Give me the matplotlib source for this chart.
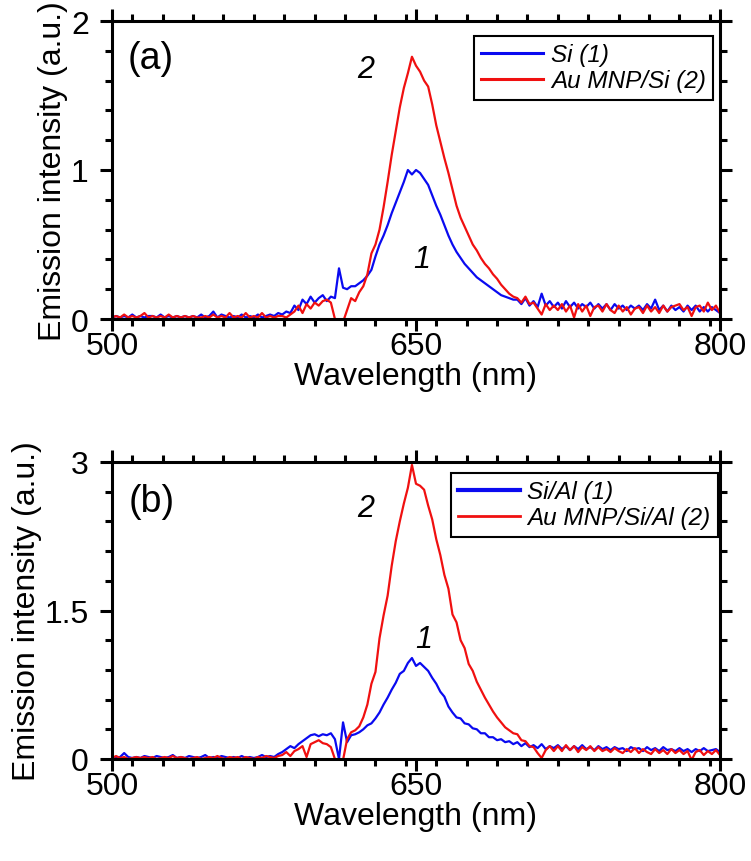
import numpy as np
import matplotlib
matplotlib.use('Agg')
import matplotlib.pyplot as plt
from matplotlib.ticker import MultipleLocator, FixedLocator
from matplotlib.lines import Line2D

plt.rcParams['font.family'] = ['Liberation Sans', 'DejaVu Sans']

# ---------------- data ----------------
wavelength = np.arange(500, 801, 2)  # nm

# panel (a): Si (1)
si_a = [
    0.01, 0.02, 0.01, 0.02, 0.01, 0.03, 0.01, 0.02, 0.01, 0.02,   # 500-518
    0.02, 0.01, 0.03, 0.01, 0.02, 0.01, 0.02, 0.01, 0.02, 0.01,   # 520-538
    0.02, 0.01, 0.03, 0.01, 0.02, 0.05, 0.01, 0.03, 0.02, 0.01,   # 540-558
    0.02, 0.01, 0.03, 0.01, 0.02, 0.01, 0.03, 0.01, 0.02, 0.03,   # 560-578
    0.02, 0.04, 0.03, 0.05, 0.04, 0.09, 0.06, 0.13, 0.10, 0.15,   # 580-598
    0.11, 0.14, 0.16, 0.12, 0.15, 0.14, 0.34, 0.21, 0.20, 0.22,   # 600-618
    0.22, 0.24, 0.26, 0.29, 0.33, 0.42, 0.50, 0.56, 0.63, 0.71,   # 620-638
    0.78, 0.85, 0.92, 1.00, 0.97, 1.00, 0.98, 0.94, 0.90, 0.83,   # 640-658
    0.76, 0.70, 0.63, 0.56, 0.50, 0.45, 0.41, 0.37, 0.34, 0.31,   # 660-678
    0.28, 0.26, 0.24, 0.22, 0.20, 0.18, 0.16, 0.15, 0.14, 0.13,   # 680-698
    0.13, 0.10, 0.14, 0.09, 0.12, 0.08, 0.17, 0.09, 0.12, 0.08,   # 700-718
    0.11, 0.07, 0.12, 0.08, 0.11, 0.07, 0.10, 0.08, 0.11, 0.07,   # 720-738
    0.10, 0.07, 0.10, 0.06, 0.10, 0.07, 0.09, 0.06, 0.09, 0.07,   # 740-758
    0.09, 0.06, 0.10, 0.07, 0.13, 0.06, 0.09, 0.05, 0.09, 0.06,   # 760-778
    0.08, 0.05, 0.09, 0.06, 0.09, 0.05, 0.08, 0.05, 0.08, 0.06,   # 780-798
    0.04,                                                         # 800
]

# panel (a): Au MNP/Si (2)
au_si_a = [
    0.01, 0.02, 0.01, 0.03, 0.01, 0.02, 0.01, 0.02, 0.04, 0.01,
    0.02, 0.01, 0.02, 0.01, 0.03, 0.01, 0.02, 0.01, 0.02, 0.01,
    0.02, 0.01, 0.01, 0.02, 0.01, 0.03, 0.01, 0.02, 0.01, 0.04,
    0.01, 0.02, 0.01, 0.04, 0.01, 0.02, 0.01, 0.04, 0.01, 0.02,
    0.01, 0.02, 0.02, 0.01, 0.03, 0.05, 0.09, 0.04, 0.10, 0.07,
    0.11, 0.09, 0.12, 0.13, 0.11, 0.00, -0.02, -0.02, 0.06, 0.14,
    0.12, 0.18, 0.22, 0.30, 0.44, 0.50, 0.60, 0.75, 0.92, 1.10,
    1.26, 1.42, 1.55, 1.65, 1.76, 1.70, 1.66, 1.60, 1.56, 1.44,
    1.30, 1.19, 1.08, 0.98, 0.87, 0.76, 0.68, 0.62, 0.56, 0.50,
    0.46, 0.41, 0.37, 0.34, 0.30, 0.27, 0.23, 0.20, 0.17, 0.15,
    0.14, 0.11, 0.15, 0.10, 0.11, 0.07, 0.03, 0.10, 0.06, 0.09,
    0.06, 0.10, 0.05, 0.09, 0.01, 0.10, 0.05, 0.09, 0.02, 0.08,
    0.09, 0.05, 0.10, 0.06, 0.04, 0.09, 0.05, 0.08, 0.03, 0.07,
    0.08, 0.04, 0.09, 0.05, 0.08, 0.04, 0.09, 0.05, 0.08, 0.09,
    0.10, 0.06, 0.08, 0.02, 0.08, 0.09, 0.05, 0.11, 0.06, 0.09,
    0.04,
]

# panel (b): Si/Al (1)
si_al_b = [
    0.02, 0.01, 0.02, 0.06, 0.02, 0.01, 0.02, 0.01, 0.03, 0.02,
    0.01, 0.03, 0.02, 0.01, 0.02, 0.04, 0.01, 0.02, 0.01, 0.03,
    0.02, 0.01, 0.02, 0.04, 0.01, 0.02, 0.01, 0.03, 0.02, 0.01,
    0.02, 0.01, 0.03, 0.01, 0.02, 0.01, 0.02, 0.04, 0.02, 0.03,
    0.02, 0.05, 0.07, 0.10, 0.13, 0.11, 0.15, 0.18, 0.21, 0.24,
    0.25, 0.23, 0.25, 0.24, 0.26, 0.20, 0.00, 0.37, 0.17, 0.24,
    0.25, 0.27, 0.30, 0.34, 0.36, 0.41, 0.47, 0.55, 0.62, 0.70,
    0.77, 0.86, 0.89, 0.97, 1.02, 0.94, 0.97, 0.93, 0.89, 0.82,
    0.76, 0.68, 0.63, 0.53, 0.47, 0.42, 0.41, 0.36, 0.35, 0.31,
    0.30, 0.26, 0.26, 0.22, 0.22, 0.19, 0.20, 0.17, 0.18, 0.15,
    0.17, 0.13, 0.16, 0.12, 0.14, 0.11, 0.15, 0.10, 0.13, 0.11,
    0.14, 0.10, 0.13, 0.09, 0.13, 0.10, 0.14, 0.10, 0.12, 0.09,
    0.13, 0.10, 0.12, 0.09, 0.12, 0.10, 0.11, 0.08, 0.12, 0.10,
    0.11, 0.08, 0.12, 0.09, 0.11, 0.08, 0.12, 0.09, 0.10, 0.08,
    0.11, 0.08, 0.10, 0.07, 0.10, 0.08, 0.11, 0.08, 0.09, 0.10,
    0.07,
]

# panel (b): Au MNP/Si/Al (2)
au_si_al_b = [
    0.01, 0.03, 0.01, 0.02, 0.00, 0.01, 0.02, 0.01, 0.02, 0.01,
    0.02, 0.00, 0.01, 0.02, 0.01, 0.03, 0.01, 0.02, 0.01, 0.00,
    0.01, 0.02, 0.00, 0.01, 0.02, 0.01, 0.03, 0.01, 0.00, 0.02,
    0.01, 0.02, 0.00, 0.02, 0.01, 0.00, 0.02, 0.01, 0.03, 0.02,
    0.01, 0.03, 0.04, 0.07, 0.03, 0.08, 0.10, 0.13, 0.02, 0.15,
    0.17, 0.19, 0.16, 0.15, 0.12, 0.00, -0.02, -0.01, 0.20, 0.27,
    0.29, 0.33, 0.42, 0.55, 0.76, 0.88, 1.22, 1.45, 1.65, 1.95,
    2.20, 2.40, 2.58, 2.74, 2.97, 2.78, 2.76, 2.72, 2.56, 2.42,
    2.22, 2.06, 1.86, 1.72, 1.46, 1.38, 1.20, 1.12, 0.96, 0.89,
    0.78, 0.70, 0.62, 0.55, 0.48, 0.42, 0.37, 0.32, 0.29, 0.26,
    0.25, 0.19, 0.18, 0.13, 0.12, 0.06, 0.01, 0.09, 0.13, 0.08,
    0.13, 0.08, 0.14, 0.09, 0.13, 0.07, 0.12, 0.09, 0.13, 0.08,
    0.12, 0.08, 0.10, 0.07, 0.11, 0.08, 0.06, 0.10, 0.07, 0.11,
    0.06, 0.10, 0.07, 0.05, 0.10, 0.06, 0.09, 0.05, 0.10, 0.06,
    0.09, 0.05, 0.08, -0.01, 0.07, 0.09, 0.04, 0.08, 0.05, 0.09,
    0.04,
]

labels_a = ['Si (1)', 'Au MNP/Si (2)']
labels_b = ['Si/Al (1)', 'Au MNP/Si/Al (2)']
x_ticks = [500, 650, 800]
y_ticks_a = [0, 1, 2]
y_ticklabels_a = ['0', '1', '2']
y_ticks_b = [0, 1.5, 3]
y_ticklabels_b = ['0', '1.5', '3']

BLUE = '#0a0af0'
RED = '#f01010'

# ---------------- figure ----------------
W, H = 751, 862
fig = plt.figure(figsize=(W / 100, H / 100), dpi=100)


def add_ax(l, t, r, b):
    return fig.add_axes([l / W, 1 - b / H, (r - l) / W, (b - t) / H])


ax1 = add_ax(112, 22, 720, 320)
ax2 = add_ax(112, 463, 720, 760)


def style(ax, ymax, yticks, yticklabels, yminor):
    ax.set_xlim(500, 800)
    ax.set_ylim(0, ymax)
    ax.xaxis.set_major_locator(FixedLocator(x_ticks))
    ax.xaxis.set_minor_locator(MultipleLocator(15))
    ax.yaxis.set_major_locator(FixedLocator(yticks))
    ax.yaxis.set_minor_locator(MultipleLocator(yminor))
    ax.set_yticklabels(yticklabels)
    for s in ax.spines.values():
        s.set_linewidth(2.2)
    ax.tick_params(which='both', direction='out', top=True, right=True,
                   width=2.2, labelsize=23)
    ax.tick_params(which='major', length=8.7)
    ax.tick_params(which='minor', length=5)
    ax.tick_params(axis='x', which='major', pad=0)
    ax.tick_params(axis='y', which='major', pad=8)
    ax.set_xlabel('Wavelength (nm)', fontsize=23, labelpad=0)
    ax.set_ylabel('Emission intensity (a.u.)', fontsize=23, labelpad=2)


# panel (a)
ax1.plot(wavelength, si_a, color=BLUE, lw=1.6)
ax1.plot(wavelength, au_si_a, color=RED, lw=1.6)
style(ax1, 2, y_ticks_a, y_ticklabels_a, 0.2)
ax1.text(0.025, 0.877, '(a)', transform=ax1.transAxes, fontsize=27,
         ha='left', va='center')
ax1.text(625.3, 1.675, '2', fontsize=22, style='italic', ha='center', va='center')
ax1.text(653, 0.40, '1', fontsize=22, style='italic', ha='center', va='center')
h_a = [Line2D([], [], color=BLUE, lw=2.2), Line2D([], [], color=RED, lw=2.2)]
leg = ax1.legend(h_a, labels_a, loc='upper right',
                 bbox_to_anchor=((713 - 112) / 608, (320 - 37) / 298),
                 borderaxespad=0, fancybox=False, edgecolor='black', framealpha=1,
                 prop={'size': 17.5, 'style': 'italic'}, handlelength=2.55,
                 handletextpad=0.3, borderpad=0.3, labelspacing=0.12)
leg.get_frame().set_linewidth(1.5)

# panel (b)
ax2.plot(wavelength, si_al_b, color=BLUE, lw=1.6)
ax2.plot(wavelength, au_si_al_b, color=RED, lw=1.6)
style(ax2, 3, y_ticks_b, y_ticklabels_b, 0.3)
ax2.text(0.027, 0.870, '(b)', transform=ax2.transAxes, fontsize=27,
         ha='left', va='center')
ax2.text(625.3, 2.535, '2', fontsize=22, style='italic', ha='center', va='center')
ax2.text(654, 1.21, '1', fontsize=22, style='italic', ha='center', va='center')
h_b = [Line2D([], [], color=BLUE, lw=3.0), Line2D([], [], color=RED, lw=2.0)]
leg = ax2.legend(h_b, labels_b, loc='upper right',
                 bbox_to_anchor=((718 - 112) / 608, (760 - 474) / 297),
                 borderaxespad=0, fancybox=False, edgecolor='black', framealpha=1,
                 prop={'size': 17.5, 'style': 'italic'}, handlelength=2.55,
                 handletextpad=0.3, borderpad=0.3, labelspacing=0.12)
leg.get_frame().set_linewidth(1.5)

fig.savefig('out.png', dpi=100)
